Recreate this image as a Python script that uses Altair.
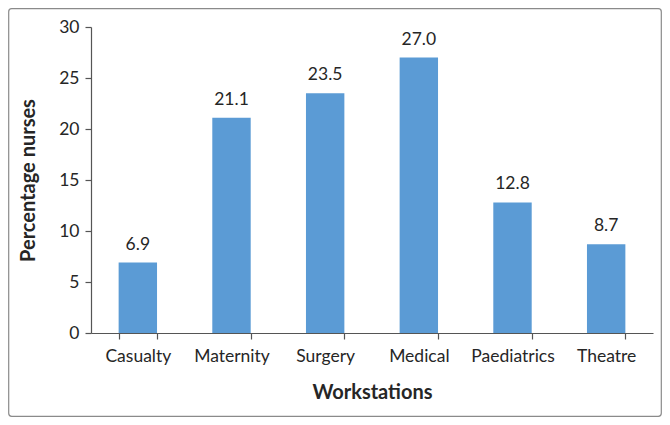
import altair as alt
import pandas as pd

categories = ["Casualty", "Maternity", "Surgery", "Medical", "Paediatrics", "Theatre"]
values = [6.9, 21.1, 23.5, 27.0, 12.8, 8.7]

df = pd.DataFrame({"Workstation": categories, "Percent": values})

W, H = 562, 306
PL, PT, PR, PB = 83, 19, 9, 84
FONT = "Lato"

x = alt.X("Workstation:N", sort=categories, title="Workstations",
          scale=alt.Scale(paddingInner=0.59, paddingOuter=0.295),
          axis=alt.Axis(labelAngle=0, tickBand="extent", labelPadding=8,
                        titlePadding=18))
y = alt.Y("Percent:Q", title="Percentage nurses",
          scale=alt.Scale(domain=[0, 30], nice=False),
          axis=alt.Axis(values=[0, 5, 10, 15, 20, 25, 30], grid=False,
                        labelPadding=6, titlePadding=20))

bars = alt.Chart(df).mark_bar(color="#5B9BD5").encode(x=x, y=y)
labels = alt.Chart(df).mark_text(dy=-9, baseline="bottom", fontSize=17.5,
                                 font=FONT, color="#262626").encode(
    x=alt.X("Workstation:N", sort=categories),
    y="Percent:Q",
    text=alt.Text("Percent:Q", format=".1f"))

frame = alt.Chart(pd.DataFrame({"a": [0]})).mark_rect(
    fill=None, stroke="#8a8a8a", strokeWidth=1.2, cornerRadius=3, clip=False
).encode(x=alt.value(-PL + 0.7), x2=alt.value(W + PR - 0.7),
         y=alt.value(-PT + 0.7), y2=alt.value(H + PB - 0.7))

chart = alt.layer(frame, bars, labels).properties(
    width=W, height=H,
    autosize=alt.AutoSizeParams(type="none"),
    padding={"left": PL, "top": PT, "right": PR, "bottom": PB},
).configure_view(stroke=None).configure_axis(
    labelFont=FONT, titleFont=FONT, labelFontSize=17.5, titleFontSize=20,
    titleFontWeight="bold", labelColor="#262626", titleColor="#262626",
    domainColor="#555555", tickColor="#555555", tickSize=6, domainWidth=1.2,
    tickWidth=1.2,
)

chart.save("out.html", embed_options={"renderer": "svg", "actions": False})
